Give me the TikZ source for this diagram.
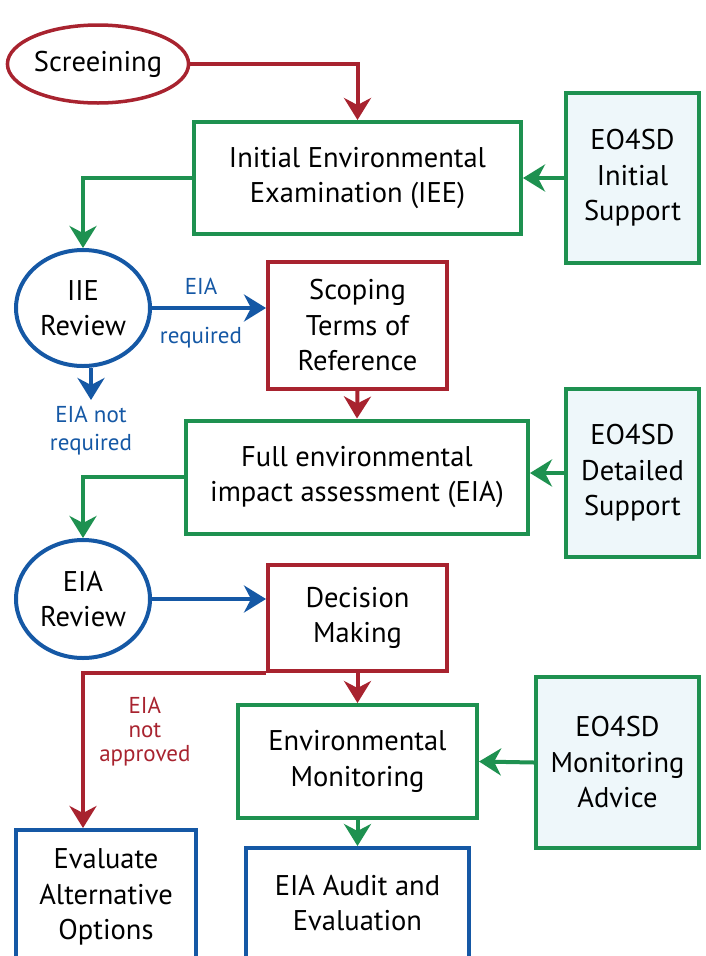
\documentclass[tikz,border=0pt]{standalone}
\usepackage{fontspec}
\setmainfont{PT Sans}
\usetikzlibrary{shapes.geometric,arrows.meta}
\definecolor{esared}{HTML}{A8232F}
\definecolor{esagreen}{HTML}{1E9150}
\definecolor{esablue}{HTML}{1558A5}
\definecolor{esafill}{HTML}{EEF7FA}
\begin{document}
\begin{tikzpicture}[x=1pt,y=-1pt,
  txt/.style={font=\fontsize{28.5}{35.5}\selectfont,align=center,text=black},
  boxr/.style={txt,draw=esared,line width=4pt,inner sep=0pt},
  boxg/.style={txt,draw=esagreen,line width=4pt,inner sep=0pt},
  boxb/.style={txt,draw=esablue,line width=4pt,inner sep=0pt},
  boxs/.style={boxg,fill=esafill},
  ovr/.style={txt,ellipse,draw=esared,line width=3.5pt,inner sep=0pt},
  ovb/.style={txt,ellipse,draw=esablue,line width=4pt,inner sep=0pt},
  flow/.style={line width=4pt,-{Stealth[length=22pt,width=27pt,inset=7pt]}},
  lbl/.style={font=\fontsize{23}{28}\selectfont,align=center}]
  \clip (0,0) rectangle (705,956);
  % Screening and initial examination
  \node[ovr,minimum width=164,minimum height=78] (screen) at (98,64) {Screeining};
  \node[boxg,minimum width=327,minimum height=112] (iee) at (357.5,178) {Initial Environmental\\Examination (IEE)};
  \node[boxs,minimum width=133,minimum height=170] (initsup) at (632.5,178) {EO4SD\\Initial\\Support};
  \node[ovb,minimum width=134,minimum height=116] (iierev) at (83,308) {IIE\\Review};
  \node[boxr,minimum width=179,minimum height=127] (scoping) at (357.5,325.5) {Scoping\\Terms of\\Reference};
  \coordinate (noeia) at (91,400);
  % Full assessment
  \node[boxg,minimum width=342,minimum height=113] (fulleia) at (357,477) {Full environmental\\impact assessment (EIA)};
  \node[boxs,minimum width=133,minimum height=168] (detsup) at (632.5,473) {EO4SD\\Detailed\\Support};
  \node[ovb,minimum width=134,minimum height=118] (eiarev) at (83,599) {EIA\\Review};
  \node[boxr,minimum width=179,minimum height=106] (decision) at (357.5,618) {Decision\\Making};
  % Monitoring and follow-up
  \node[boxg,minimum width=239,minimum height=113] (monitor) at (357.5,761.5) {Environmental\\Monitoring};
  \node[boxs,minimum width=163,minimum height=171] (monsup) at (617.5,762.5) {EO4SD\\Monitoring\\Advice};
  \node[boxb,minimum width=180,minimum height=134] (altopt) at (106,897) {Evaluate\\Alternative\\Options};
  \node[boxb,minimum width=223,minimum height=110] (audit) at (357.5,903) {EIA Audit and\\Evaluation};
  % Connectors
  \draw[flow,esared] (screen.east) -| (iee.north);
  \draw[flow,esagreen] (initsup.west) -- (iee.east);
  \draw[flow,esagreen] (iee.west) -| (iierev.north);
  \draw[flow,esablue] (iierev.east) -- (iierev.east -| scoping.west)
    node[lbl,text=esablue,midway,above=8pt,xshift=-8pt] {EIA}
    node[lbl,text=esablue,midway,below=14pt,xshift=-8pt] {required};
  \draw[flow,esablue] (iierev.south -| noeia) -- (noeia)
    node[lbl,text=esablue,below=1pt] {EIA not\\required};
  \draw[flow,esared] (scoping.south) -- (fulleia.north);
  \draw[flow,esagreen] (detsup.west) -- (detsup.west -| fulleia.east);
  \draw[flow,esagreen] (fulleia.west) -| (eiarev.north);
  \draw[flow,esablue] (eiarev.east) -- (eiarev.east -| decision.west);
  \draw[flow,esared] (decision.south west) -| (altopt.north -| eiarev.south)
    node[lbl,text=esared,pos=0.69,right=11pt,font=\fontsize{23}{24}\selectfont] {EIA\\not\\approved};
  \draw[flow,esared] (decision.south) -- (monitor.north);
  \draw[flow,esagreen] (monsup.west) -- (monitor.east);
  \draw[flow,esagreen] (monitor.south) -- (audit.north);
\end{tikzpicture}
\end{document}
